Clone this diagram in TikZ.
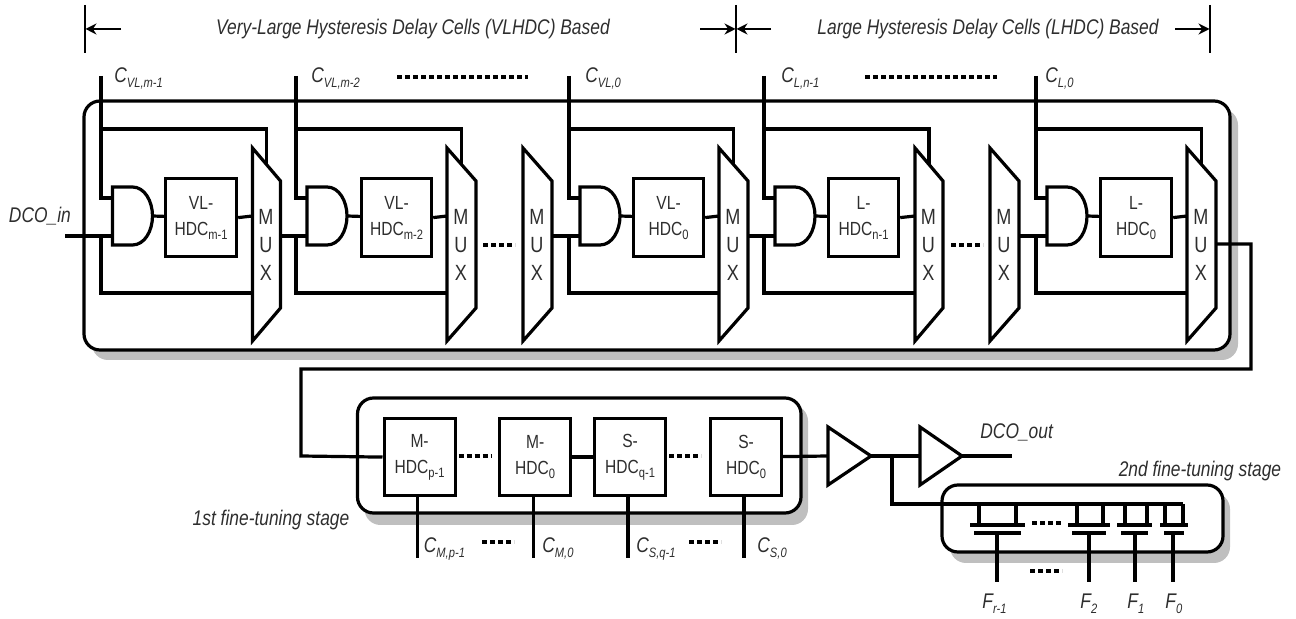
\documentclass[tikz,border=0pt]{standalone}
\usepackage{fontspec}
\setmainfont[FakeStretch=0.82]{Liberation Sans}
\usetikzlibrary{arrows.meta}
\definecolor{shadowgray}{gray}{0.75}
\definecolor{inkgray}{gray}{0.18}
\newcommand{\low}[1]{\raisebox{-0.4ex}{\fontsize{6.8}{7}\selectfont #1}}
\tikzset{
	wire/.style={line width=1.6pt,line join=miter},
	thinwire/.style={line width=0.7pt},
	rangetip/.style={thinwire,-{Stealth[length=5.5pt,width=5.5pt]}},
	dotline/.style={line width=1.7pt,dash pattern=on 2.6pt off 1.4pt},
	frame/.style={line width=1.6pt,fill=white,rounded corners=8pt},
	frameshadow/.style={fill=shadowgray,rounded corners=8pt},
	cellbox/.style={draw,line width=1.6pt,fill=white,inner sep=0pt,align=center,font=\fontsize{9.5}{13}\selectfont,text=inkgray},
	lbl/.style={font=\fontsize{10.6}{12}\selectfont\itshape,text=inkgray,inner sep=0pt},
	muxtext/.style={inner sep=0pt,align=center,font=\fontsize{11}{14.2}\selectfont,text=inkgray},
	pics/muxpic/.style={code={
		\draw[wire,fill=white] (0,0) -- (#1,33) -- (#1,160) -- (0,193) -- cycle;
		\coordinate (-sel) at (#1/2,16.5);
		\coordinate (-in) at (0,68);
		\coordinate (-low) at (0,145);
		\coordinate (-out) at (#1,88);
		\node[muxtext] (-text) at (#1/2-0.5,97) {M\\U\\X};
	}},
	pics/andpic/.style={code={
		\draw[wire,fill=white] (0,0) -- (20,0) .. controls (32,0) and (40,14) .. (40,29) .. controls (40,44) and (32,58) .. (20,58) -- (0,58) -- cycle;
		\coordinate (-a) at (0,11);
		\coordinate (-b) at (0,49);
		\coordinate (-y) at (40,29);
	}},
}
\begin{document}
\begin{tikzpicture}[x=0.5pt,y=-0.5pt]
	\useasboundingbox (0,0) rectangle (1296,619);
	% range marks on top
	\coordinate (marka) at (85,5);
	\coordinate (markb) at (736,5);
	\coordinate (markc) at (1210,5);
	\foreach \mk in {marka,markb,markc}
		\draw[thinwire] (\mk) -- ++(0,48);
	\draw[rangetip] (121,29) -- (85.5,29);
	\draw[rangetip] (700,29) -- (735.5,29);
	\draw[rangetip] (771,29) -- (736.5,29);
	\draw[rangetip] (1175,29) -- (1209.5,29);
	\node[lbl] (vltitle) at (413,29) {Very-Large Hysteresis Delay Cells (VLHDC) Based};
	\node[lbl] (ltitle) at (988,29) {Large Hysteresis Delay Cells (LHDC) Based};
	% main block
	\fill[frameshadow] (92,109) rectangle (1238,360);
	\draw[frame] (84,101) rectangle (1230,350);
	\foreach \cellid/\cx/\lx/\ax/\bl/\bw/\mx/\mw/\ctext/\btext in {%
		a/101/114/112.5/164/71/252.5/28/{C\low{VL,m-1}}/{VL-\\HDC\low{m-1}},
		b/296/311/307/360/70/447/29/{C\low{VL,m-2}}/{VL-\\HDC\low{m-2}},
		c/569/585/580/632/70/719/29/{C\low{VL,0}}/{VL-\\HDC\low{0}},
		d/764/781/775/827/70/915/28/{C\low{L,n-1}}/{L-\\HDC\low{n-1}},
		e/1036/1045/1047/1099/71/1187/29/{C\low{L,0}}/{L-\\HDC\low{0}}}{
		\coordinate (ctop\cellid) at (\cx,76);
		\node[lbl,anchor=base west] (clabel\cellid) at (\lx,83) {\ctext};
		\pic (and\cellid) at (\ax,187) {andpic};
		\node[cellbox,anchor=north west,minimum width=\bw*0.5pt,minimum height=39pt] (hdc\cellid) at (\bl,177) {\btext};
		\pic (mux\cellid) at (\mx,148) {muxpic=\mw};
		\draw[wire] (and\cellid-y) -- (hdc\cellid);
		\draw[wire] (hdc\cellid.east) -- (mux\cellid-in);
		\draw[wire] (ctop\cellid) |- (and\cellid-a);
		\draw[wire] (ctop\cellid |- 0,129) -| (mux\cellid-sel);
		\coordinate (tap\cellid) at (\cx,236);
		\draw[wire] (tap\cellid) |- (mux\cellid-low);
	}
	\pic (muxf) at (523,148) {muxpic=29};
	\pic (muxg) at (990,148) {muxpic=29};
	% chain through the cells
	\draw[wire] (muxa-out) -- (andb-b);
	\draw[wire] (muxf-out) -- (andc-b);
	\draw[wire] (muxc-out) -- (andd-b);
	\draw[wire] (muxg-out) -- (ande-b);
	\coordinate (dcoin) at (65,236);
	\draw[wire] (dcoin) -- (anda-b);
	\node[lbl,anchor=base west] (dcoinlabel) at (8.6,223) {DCO\_in};
	\draw[dotline] (483,245) -- (515,245);
	\draw[dotline] (951,245) -- (983,245);
	\draw[dotline] (397,77) -- (528,77);
	\draw[dotline] (865,77) -- (997,77);
	% first fine tuning stage
	\fill[frameshadow] (364.5,405) rectangle (808,525);
	\draw[frame] (357.5,398) rectangle (801,513);
	\foreach \cellid/\bl/\cl/\lx/\ctext/\btext in {%
		m/382.5/417.5/423.5/{C\low{M,p-1}}/{M-\\HDC\low{p-1}},
		n/498/533.5/542/{C\low{M,0}}/{M-\\HDC\low{0}},
		s/593/628/636/{C\low{S,q-1}}/{S-\\HDC\low{q-1}},
		t/709/744/757/{C\low{S,0}}/{S-\\HDC\low{0}}}{
		\node[cellbox,anchor=north west,minimum width=35.5pt,minimum height=38.5pt] (fine\cellid) at (\bl,417) {\btext};
		\coordinate (ctl\cellid) at (\cl,558);
		\draw[wire] (fine\cellid.south -| ctl\cellid) -- (ctl\cellid);
		\node[lbl,anchor=base west] (ctllabel\cellid) at (\lx,553) {\ctext};
	}
	\node[lbl] (firstlabel) at (271,520) {1st fine-tuning stage};
	\coordinate (muxeexit) at (1216,244);
	\coordinate (backtop) at (1251,369);
	\draw[wire] (muxeexit) -| (backtop) -| (301,456) -- (finem.west);
	\draw[wire] (finen) -- (fines);
	\draw[dotline] (458.5,456) -- (491,456);
	\draw[dotline] (669,456) -- (701,456);
	\draw[dotline] (482,542) -- (514,542);
	\draw[dotline] (689,542) -- (721,542);
	% buffers and output
	\draw[wire,fill=white] (828,427) -- (871,456) -- (828,485) -- cycle;
	\draw[wire,fill=white] (920,427) -- (962,456) -- (920,485) -- cycle;
	\coordinate (bufaout) at (871,456);
	\coordinate (bufain) at (828,456);
	\coordinate (bufbin) at (920,456);
	\coordinate (bufbout) at (962,456);
	\coordinate (dcoout) at (1012,456);
	\draw[wire] (finet) -- (bufain);
	\draw[wire] (bufaout) -- (bufbin);
	\draw[wire] (bufbout) -- (dcoout);
	\node[lbl,anchor=base west] (dcooutlabel) at (980,439) {DCO\_out};
	% second fine tuning stage
	\fill[frameshadow] (950,493) rectangle (1230,563);
	\draw[frame] (942,485) rectangle (1223,552);
	\node[lbl] (secondlabel) at (1200,471) {2nd fine-tuning stage};
	\coordinate (tapfet) at (892,456);
	\coordinate (fetrail) at (1183,504);
	\draw[wire] (tapfet) |- (fetrail);
	\foreach \fetid/\gx/\da/\db/\ba/\bb/\ftext/\fx in {%
		a/997/979/1016/970/1025/{F\low{r-1}}/982,
		b/1089/1077/1103/1068/1110/{F\low{2}}/1080,
		c/1135/1125/1147/1117/1152/{F\low{1}}/1127,
		d/1173/1165/1183/1160/1188/{F\low{0}}/1165}{
		\coordinate (fetbar\fetid) at (\gx,525);
		\draw[wire] (\da,504) -- (\da,525);
		\draw[wire] (\db,504) -- (\db,525);
		\draw[wire] (\ba,525) -- (\bb,525);
		\draw[wire] (\ba+4,533) -- (\bb-4,533);
		\coordinate (fetgate\fetid) at (\gx,533);
		\coordinate (fetpin\fetid) at (\gx,582);
		\draw[wire] (fetgate\fetid) -- (fetpin\fetid);
		\node[lbl,anchor=base west] (fetlabel\fetid) at (\fx,609) {\ftext};
	}
	\draw[dotline] (1032,523) -- (1062,523);
	\draw[dotline] (1030,571) -- (1062,571);
\end{tikzpicture}
\end{document}
